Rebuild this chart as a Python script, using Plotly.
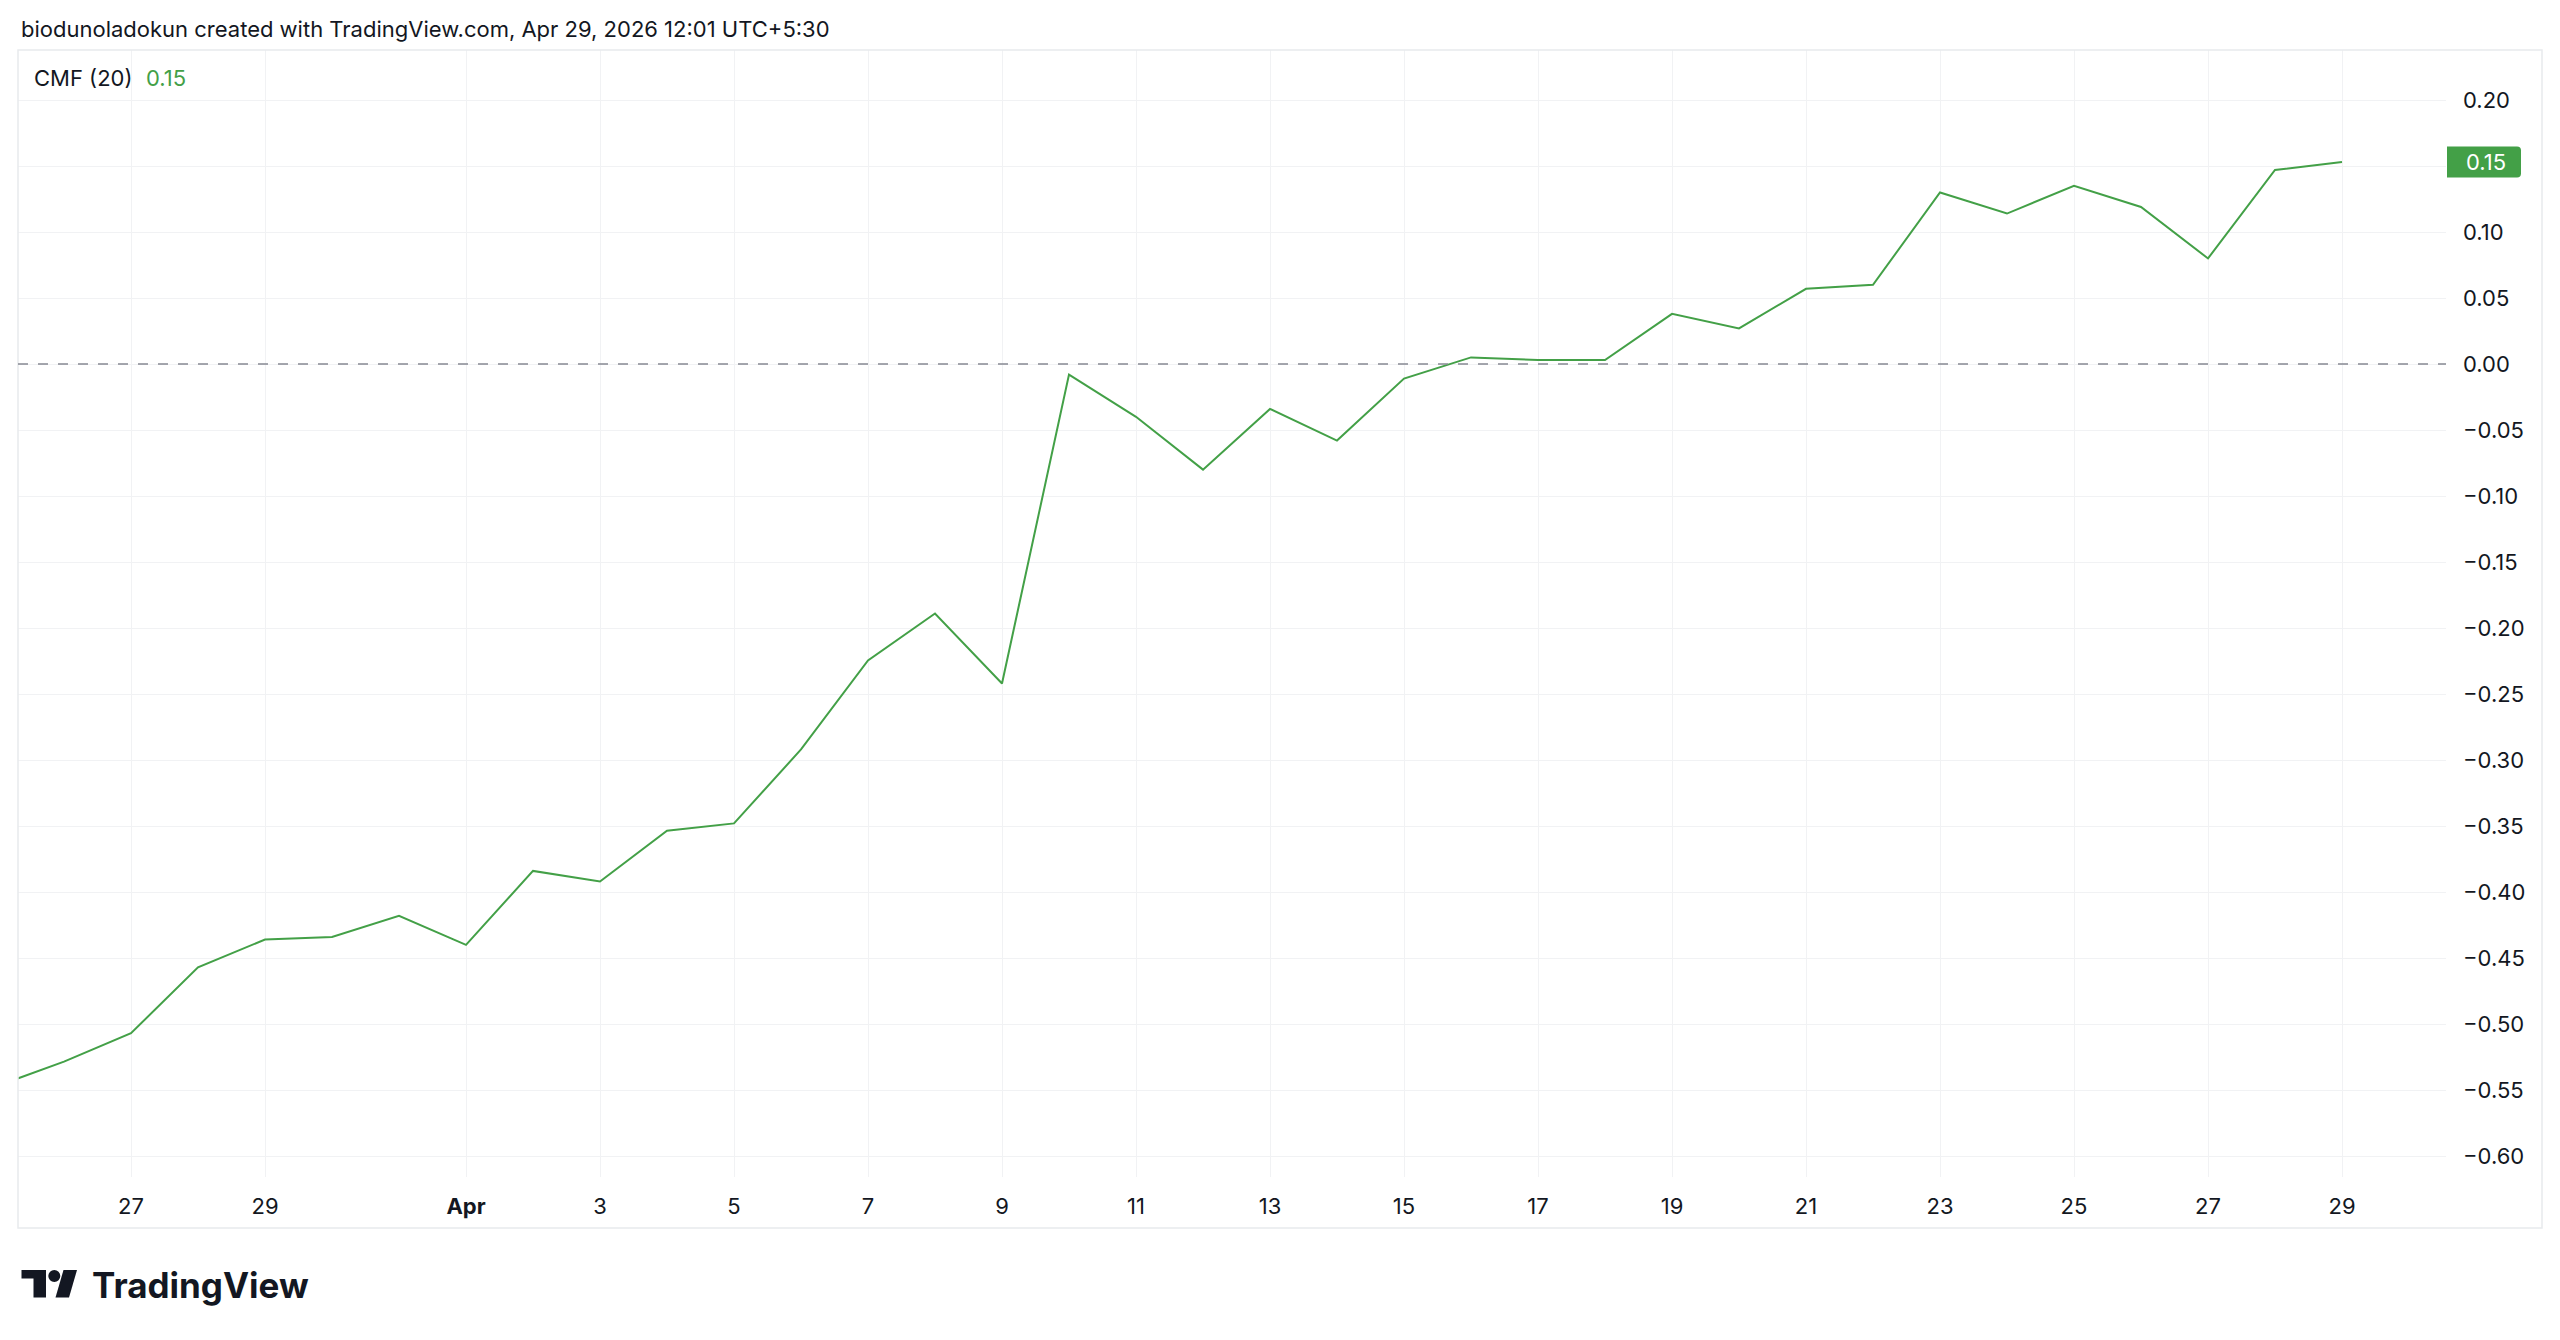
import plotly.graph_objects as go
import pandas as pd

# ---------------- data ----------------
dates = pd.date_range("2026-03-25", "2026-04-29", freq="D")
cmf = [
    -0.547, -0.5285, -0.507, -0.457, -0.436, -0.434, -0.418,          # Mar 25 - Mar 31
    -0.440, -0.384, -0.392, -0.3535, -0.348, -0.292, -0.2245, -0.189,  # Apr 1 - Apr 8
    -0.242, -0.008, -0.040, -0.080, -0.034, -0.058, -0.011, 0.005,     # Apr 9 - Apr 16
    0.003, 0.003, 0.038, 0.027, 0.057, 0.060, 0.130, 0.114,            # Apr 17 - Apr 24
    0.135, 0.119, 0.080, 0.147, 0.153,                                 # Apr 25 - Apr 29
]
tick_dates = ["2026-03-27", "2026-03-29", "2026-04-01", "2026-04-03", "2026-04-05",
              "2026-04-07", "2026-04-09", "2026-04-11", "2026-04-13", "2026-04-15",
              "2026-04-17", "2026-04-19", "2026-04-21", "2026-04-23", "2026-04-25",
              "2026-04-27", "2026-04-29"]
tick_text = ["27", "29", "<b>Apr</b>", "3", "5", "7", "9", "11", "13", "15",
             "17", "19", "21", "23", "25", "27", "29"]
indicator_name = "CMF (20)"
header_text = "biodunoladokun created with TradingView.com, Apr 29, 2026 12:01 UTC+5:30"

# ---------------- layout constants (pixels) ----------------
W, H = 2560, 1340
L, R, T, B = 18, 2446, 50, 1177          # pane
AX_R, AX_B = 2542, 1228                  # outer border (price axis / time axis)
Y_MIN, Y_MAX = -0.6159, 0.2379
DAY_PX = 67.0
LAST_X_PX = 2342

GREEN = "#43a047"
TEXT = "#131722"
GRID = "#f1f2f4"
BORDER = "#e8eaed"
FONT = "Inter"

x_start = dates[-1] - pd.Timedelta(days=(LAST_X_PX - L) / DAY_PX)
x_end = dates[-1] + pd.Timedelta(days=(R - LAST_X_PX) / DAY_PX)


def px(x):
    return (x - L) / (R - L)


def py(y):
    return (B - y) / (B - T)


def P(x, y):
    return f"{px(x):.6f},{py(y):.6f}"


fig = go.Figure()
fig.add_trace(go.Scatter(
    x=dates, y=cmf, mode="lines",
    line=dict(color=GREEN, width=2),
    hoverinfo="skip", showlegend=False,
))

shapes = []
# outer border
shapes.append(dict(type="rect", xref="paper", yref="paper",
                   x0=px(L), x1=px(AX_R), y0=py(AX_B), y1=py(T),
                   line=dict(color=BORDER, width=1.5), fillcolor="rgba(0,0,0,0)",
                   layer="above"))
# zero dashed line
shapes.append(dict(type="line", xref="paper", yref="y", x0=0, x1=1, y0=0, y1=0,
                   line=dict(color="#868993", width=1.5, dash="10px,10px"),
                   layer="above"))

# last value label box
last = cmf[-1]
yc = T + (Y_MAX - last) / (Y_MAX - Y_MIN) * (B - T)
bx0, bx1 = 2447, 2521
yt, yb = yc - 15.5, yc + 15.5
r = 4
box_path = (f"M{P(bx0, yt)} L{P(bx1 - r, yt)} Q{P(bx1, yt)} {P(bx1, yt + r)} "
            f"L{P(bx1, yb - r)} Q{P(bx1, yb)} {P(bx1 - r, yb)} L{P(bx0, yb)} Z")
shapes.append(dict(type="path", xref="paper", yref="paper", path=box_path,
                   fillcolor=GREEN, line=dict(width=0), layer="above"))

# TradingView logo icon
t_path = (f"M{P(21.5, 1270)} L{P(46, 1270)} L{P(46, 1297.5)} L{P(33.5, 1297.5)} "
          f"L{P(33.5, 1278.5)} L{P(21.5, 1278.5)} Z")
shapes.append(dict(type="path", xref="paper", yref="paper", path=t_path,
                   fillcolor=TEXT, line=dict(width=0)))
shapes.append(dict(type="circle", xref="paper", yref="paper",
                   x0=px(48.3), x1=px(60.3), y0=py(1282), y1=py(1270),
                   fillcolor=TEXT, line=dict(width=0)))
slash_path = (f"M{P(63.5, 1270)} L{P(77, 1270)} L{P(69, 1297.5)} L{P(55.5, 1297.5)} Z")
shapes.append(dict(type="path", xref="paper", yref="paper", path=slash_path,
                   fillcolor=TEXT, line=dict(width=0)))

annotations = [
    dict(text=header_text, xref="paper", yref="paper", x=px(19), y=py(29),
         xanchor="left", yanchor="middle", showarrow=False,
         font=dict(family=FONT, size=22, color=TEXT)),
    dict(text=indicator_name, xref="paper", yref="paper", x=px(32), y=py(78),
         xanchor="left", yanchor="middle", showarrow=False,
         font=dict(family=FONT, size=22, color=TEXT)),
    dict(text=f"{last:.2f}", xref="paper", yref="paper", x=px(144), y=py(78),
         xanchor="left", yanchor="middle", showarrow=False,
         font=dict(family=FONT, size=22, color=GREEN)),
    dict(text=f"{last:.2f}", xref="paper", yref="paper", x=px(2486), y=py(yc),
         xanchor="center", yanchor="middle", showarrow=False,
         font=dict(family=FONT, size=22, color="#ffffff")),
    dict(text="<b>TradingView</b>", xref="paper", yref="paper", x=px(90), y=py(1285),
         xanchor="left", yanchor="middle", showarrow=False,
         font=dict(family=FONT, size=35, color=TEXT)),
]

fig.update_layout(
    width=W, height=H,
    margin=dict(l=L, r=W - R, t=T, b=H - B, pad=0),
    paper_bgcolor="#ffffff", plot_bgcolor="#ffffff",
    showlegend=False,
    shapes=shapes, annotations=annotations,
    font=dict(family=FONT, size=22, color=TEXT),
    xaxis=dict(
        type="date", range=[x_start, x_end],
        tickvals=tick_dates, ticktext=tick_text,
        showgrid=True, gridcolor=GRID, gridwidth=1.2,
        zeroline=False, showline=False, ticks="",
        tickfont=dict(family=FONT, size=22, color=TEXT),
        ticklabelstandoff=14,
        fixedrange=True,
    ),
    yaxis=dict(
        side="right", range=[Y_MIN, Y_MAX],
        tick0=0, dtick=0.05, tickformat=".2f",
        showgrid=True, gridcolor=GRID, gridwidth=1.2,
        zeroline=False, showline=False, ticks="",
        tickfont=dict(family=FONT, size=22, color=TEXT),
        ticklabelstandoff=16,
        fixedrange=True,
    ),
)

fig.write_html("out.html", config={"displayModeBar": False})
